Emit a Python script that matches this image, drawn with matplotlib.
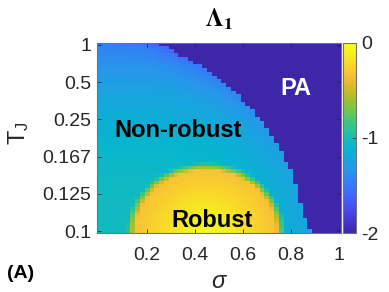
import numpy as np
import matplotlib
matplotlib.use("Agg")
import matplotlib.pyplot as plt
from matplotlib.colors import LinearSegmentedColormap

plt.rcParams['font.family'] = ['Liberation Sans', 'DejaVu Sans']
plt.rcParams['mathtext.fontset'] = 'custom'
plt.rcParams['mathtext.rm'] = 'Liberation Sans'
plt.rcParams['mathtext.it'] = 'Liberation Sans:italic'
plt.rcParams['mathtext.bf'] = 'Liberation Sans:bold'

# sigma grid (columns) and T_J rows (51 rows, labels every 10th row)
sigma = np.round(np.arange(0, 1.0001, 0.02), 2)
n_rows = 51
tj_ticks = [0, 10, 20, 30, 40, 50]
tj_labels = ['0.1', '0.125', '0.167', '0.25', '0.5', '1']
sigma_ticks = [0.2, 0.4, 0.6, 0.8, 1]
sigma_labels = ['0.2', '0.4', '0.6', '0.8', '1']

# first sigma of the PA region in each row (bottom row first)
pa_start = [0.90, 0.88, 0.88, 0.88, 0.86, 0.86, 0.86, 0.86, 0.84, 0.84,
            0.84, 0.84, 0.84, 0.82, 0.82, 0.82, 0.82, 0.80, 0.80, 0.78,
            0.78, 0.78, 0.76, 0.76, 0.74, 0.74, 0.72, 0.72, 0.70, 0.70,
            0.68, 0.66, 0.66, 0.64, 0.62, 0.60, 0.60, 0.58, 0.56, 0.54,
            0.52, 0.50, 0.48, 0.46, 0.44, 0.40, 0.38, 0.34, 0.32, 0.30,
            0.26]
pa_value = -2.0

# robust dome (centre sigma, half width in sigma, height in rows)
robust_center = 0.445
robust_halfwidth = 0.315
robust_height = 17.5
robust_top_value = -0.03
robust_rim_value = -0.33

# non-robust background levels
bg_base = -1.04
bg_top_drop = -0.42
bg_edge_drop = -0.2

# parula-like colormap
parula_pts = [
    (0.2422, 0.1504, 0.6603), (0.2803, 0.2782, 0.9221), (0.2440, 0.4358, 0.9988),
    (0.1540, 0.5902, 0.9218), (0.0297, 0.7082, 0.8163), (0.0964, 0.7500, 0.7006),
    (0.2161, 0.7765, 0.5363), (0.3909, 0.7852, 0.3392), (0.6174, 0.7551, 0.1997),
    (0.8203, 0.7278, 0.1434), (0.9730, 0.7441, 0.2237), (0.9783, 0.8466, 0.1651),
    (0.9595, 0.9537, 0.1233), (0.9769, 0.9839, 0.0805)]
parula_pos = [0, 7, 14, 21, 28, 32, 36, 40, 44, 48, 52, 56, 60, 63]
parula = LinearSegmentedColormap.from_list(
    'parula', [(p / 63, c) for p, c in zip(parula_pos, parula_pts)])

# build the field
rows = np.arange(n_rows)
S, R = np.meshgrid(sigma, rows)
pa = np.array(pa_start)[:, None]
Z = bg_base + bg_top_drop * (R / 50.0) ** 2.5 + bg_edge_drop * (S / pa) ** 4
r = np.sqrt(((S - robust_center) / robust_halfwidth) ** 2 + (R / robust_height) ** 2)
dome = robust_top_value + (robust_rim_value - robust_top_value) * r / 0.93
inner = r < 0.93
Z[inner] = dome[inner]
ring = (r >= 0.93) & (r < 1.05)
t = (r[ring] - 0.93) / 0.12
Z[ring] = robust_rim_value * (1 - t) + Z[ring] * t
Z[S >= pa - 1e-9] = pa_value

fig = plt.figure(figsize=(3.89, 2.92), dpi=100)
ax = fig.add_axes([97 / 389, 1 - 233 / 292, 244 / 389, 190 / 292])
im = ax.imshow(Z, origin='lower', aspect='auto', cmap=parula, vmin=-2, vmax=0,
               extent=[-0.01, 1.01, -0.5, n_rows - 0.5], interpolation='nearest')

txt = '#262626'
ax.set_xticks(sigma_ticks)
ax.set_xticklabels(sigma_labels)
ax.set_yticks(tj_ticks)
ax.set_yticklabels(tj_labels)
ax.tick_params(direction='in', length=3, width=0.6, color=txt, labelcolor=txt,
               labelsize=14, top=True, right=True)
ax.tick_params(axis='x', pad=10)
ax.tick_params(axis='y', pad=4)
for sp in ax.spines.values():
    sp.set_color('0.45')
    sp.set_linewidth(0.8)

ax.text(0.33, 25.3, 'Non-robust', fontsize=17, fontweight='bold', ha='center', va='baseline')
ax.text(0.473, 1.1, 'Robust', fontsize=17, fontweight='bold', ha='center', va='baseline')
ax.text(0.823, 36.5, 'PA', fontsize=17, fontweight='bold', ha='center', va='baseline', color='white')

fig.text(219 / 389, 1 - 27 / 292, r'$\mathbf{\Lambda}_{\mathbf{1}}$', fontsize=18, ha='center',
         va='baseline', color='black', math_fontfamily='stix')
fig.text(219 / 389, 1 - 288 / 292, r'$\sigma$', fontsize=17, ha='center', va='baseline', color=txt)
fig.text(19 / 389, 1 - 133 / 292, r'T$_\mathregular{J}$', fontsize=17, rotation=90,
         ha='center', va='center', color=txt)
fig.text(7 / 389, 1 - 278 / 292, '(A)', fontsize=14, fontweight='bold', ha='left', va='baseline', color='black')

cax = fig.add_axes([343 / 389, 1 - 233 / 292, 13 / 389, 190 / 292])
cb = fig.colorbar(im, cax=cax)
cb.set_ticks([-2, -1, 0])
cb.set_ticklabels(['-2', '-1', '0'])
cax.tick_params(direction='in', length=3, width=0.6, color=txt, labelcolor=txt, labelsize=14, pad=4)
cb.outline.set_edgecolor('0.45')
cb.outline.set_linewidth(0.8)

fig.savefig('out.png', dpi=100)
